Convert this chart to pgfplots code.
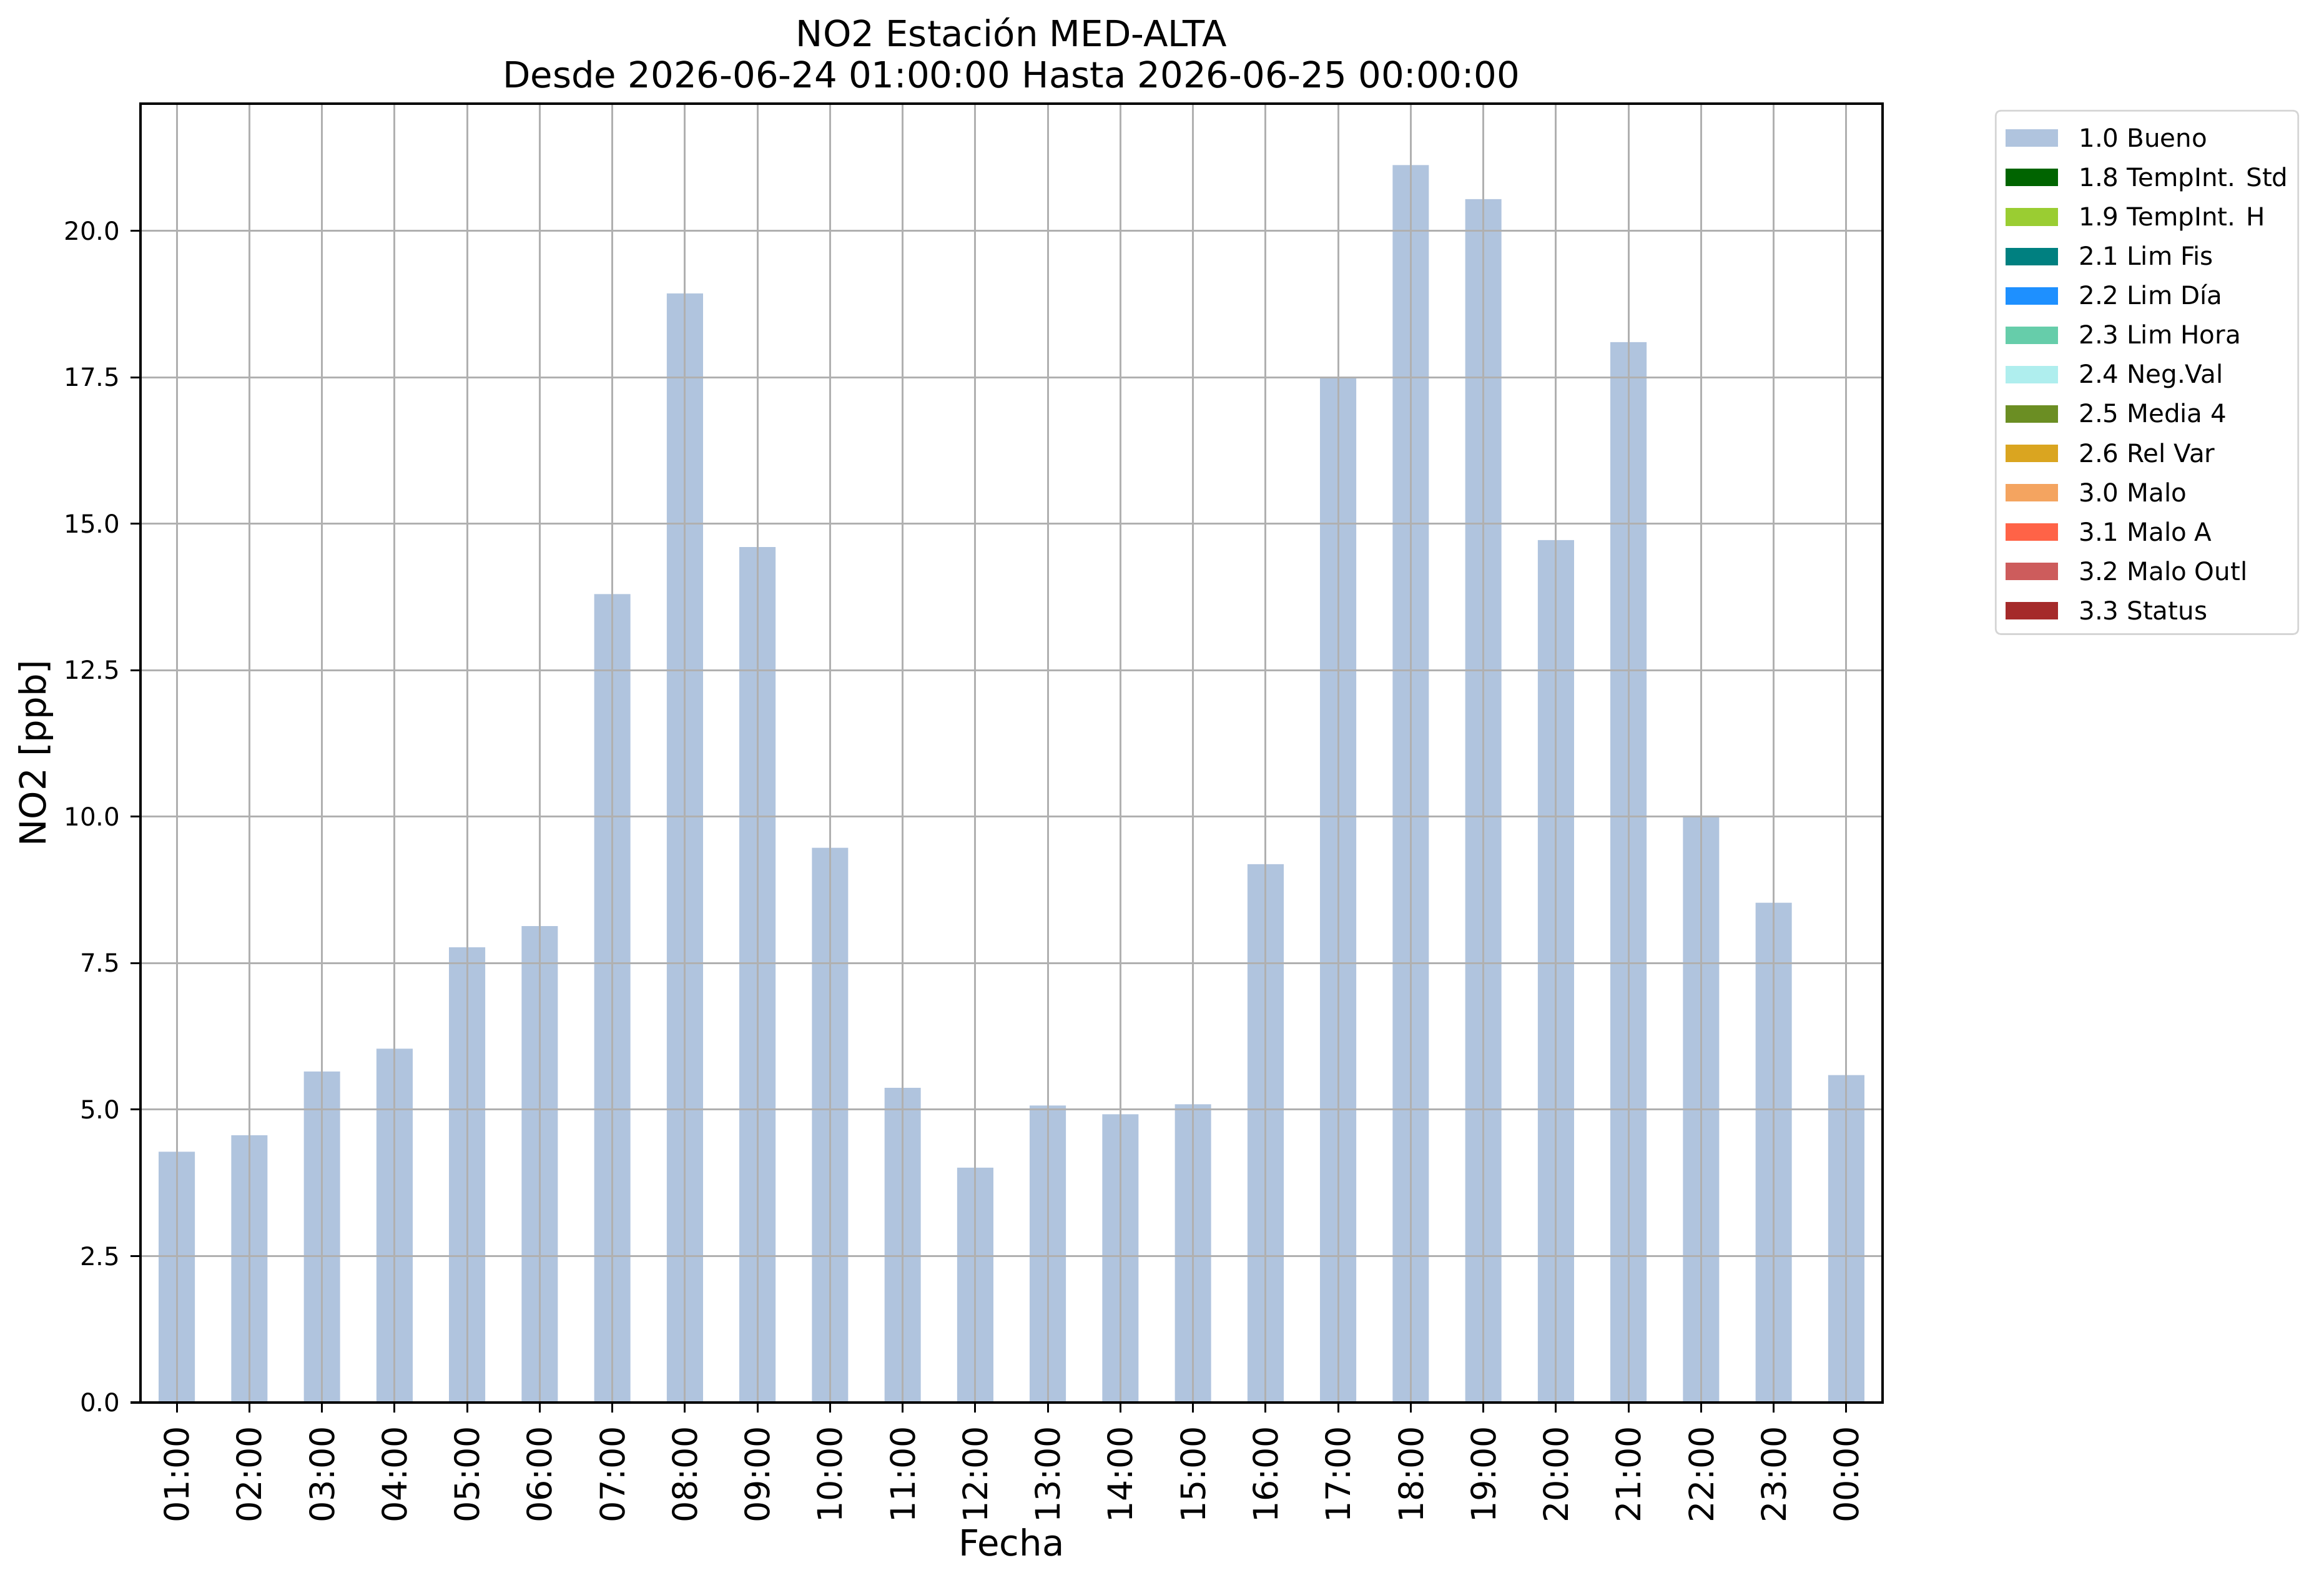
\documentclass[border=0pt]{standalone}
\usepackage{fontspec}
\setmainfont{DejaVu Sans}
\usepackage{pgfplots}
\pgfplotsset{compat=1.18}
\definecolor{bueno}{HTML}{B0C4DE}
\definecolor{c18}{HTML}{006400}
\definecolor{c19}{HTML}{9ACD32}
\definecolor{c21}{HTML}{008080}
\definecolor{c22}{HTML}{1E90FF}
\definecolor{c23}{HTML}{66CDAA}
\definecolor{c24}{HTML}{AFEEEE}
\definecolor{c25}{HTML}{6B8E23}
\definecolor{c26}{HTML}{DAA520}
\definecolor{c30}{HTML}{F4A460}
\definecolor{c31}{HTML}{FF6347}
\definecolor{c32}{HTML}{CD5C5C}
\definecolor{c33}{HTML}{A52A2A}
\definecolor{gridgray}{HTML}{B0B0B0}
\definecolor{legendgray}{HTML}{D5D5D5}
\pgfplotsset{myleg/.style={legend image code/.code={\fill[##1,draw=none,sharp corners] (0pt,0pt) rectangle (21.6pt,7.3pt);}}}
\begin{document}
\begin{tikzpicture}
\useasboundingbox (-58.5pt,-74.88pt) rectangle (909.22pt,583.96pt);
\begin{axis}[
  at={(0pt,0pt)}, anchor=south west,
  width=725.4pt, height=540.8pt, scale only axis,
  xmin=-0.5, xmax=23.5, ymin=0, ymax=22.17,
  xtick={0,...,23},
  xticklabels={01:00,02:00,03:00,04:00,05:00,06:00,07:00,08:00,09:00,10:00,11:00,12:00,13:00,14:00,15:00,16:00,17:00,18:00,19:00,20:00,21:00,22:00,23:00,00:00},
  ytick={0,2.5,...,20},
  /pgf/number format/assume math mode=true,
  yticklabel style={/pgf/number format/fixed,/pgf/number format/precision=1,/pgf/number format/fixed zerofill, font=\fontsize{10.5}{12}\selectfont, anchor=east, inner sep=0pt},
  xticklabel style={rotate=90, anchor=east, font=\fontsize{14}{16}\selectfont, inner sep=0pt},
  xticklabel shift=5.4pt,
  yticklabel shift=4.1pt,
  grid=major, major grid style={color=gridgray, line width=0.75pt},
  axis on top,
  axis line style={line width=0.8pt, black},
  tick style={line width=0.8pt, black},
  tick align=outside, major tick length=4.2pt,
  xtick pos=bottom, ytick pos=left,
  xlabel={Fecha}, ylabel={NO2 [ppb]},
  xlabel style={at={(axis description cs:0.5,-0.11779)}, anchor=base, inner sep=0pt, font=\fontsize{15}{18}\selectfont},
  ylabel style={at={(axis description cs:-0.05412,0.5)}, anchor=base, inner sep=0pt, font=\fontsize{15}{18}\selectfont},
  legend style={at={(1.0645,0.9952)}, anchor=north west, draw=legendgray, line width=0.7pt, rounded corners=2pt,
    font=\fontsize{10.5}{12}\selectfont, inner xsep=4.2pt, inner ysep=6pt, row sep=7.3pt,
    nodes={inner sep=0pt, text height=9.1pt, text depth=0pt, anchor=base west},
    /tikz/every odd column/.append style={column sep=8.8pt}},
  legend cell align=left,
]
\addplot[ybar, bar width=0.5, fill=bueno, draw=none, myleg] coordinates {
(0,4.28) (1,4.56) (2,5.65) (3,6.04) (4,7.77) (5,8.13) (6,13.80) (7,18.93)
(8,14.60) (9,9.47) (10,5.37) (11,4.01) (12,5.07) (13,4.92) (14,5.09) (15,9.19)
(16,17.50) (17,21.12) (18,20.54) (19,14.72) (20,18.10) (21,10.02) (22,8.53) (23,5.59)};
\addlegendentry{1.0 Bueno}
\addlegendimage{fill=c18, myleg}\addlegendentry{1.8 TempInt. Std}
\addlegendimage{fill=c19, myleg}\addlegendentry{1.9 TempInt. H}
\addlegendimage{fill=c21, myleg}\addlegendentry{2.1 Lim Fis}
\addlegendimage{fill=c22, myleg}\addlegendentry{2.2 Lim Día}
\addlegendimage{fill=c23, myleg}\addlegendentry{2.3 Lim Hora}
\addlegendimage{fill=c24, myleg}\addlegendentry{2.4 Neg.Val}
\addlegendimage{fill=c25, myleg}\addlegendentry{2.5 Media 4}
\addlegendimage{fill=c26, myleg}\addlegendentry{2.6 Rel Var}
\addlegendimage{fill=c30, myleg}\addlegendentry{3.0 Malo}
\addlegendimage{fill=c31, myleg}\addlegendentry{3.1 Malo A}
\addlegendimage{fill=c32, myleg}\addlegendentry{3.2 Malo Outl}
\addlegendimage{fill=c33, myleg}\addlegendentry{3.3 Status}
\end{axis}
\node[anchor=base, inner sep=0pt, font=\fontsize{15}{18}\selectfont] at (362.7pt,564.5pt) {NO2 Estación MED-ALTA};
\node[anchor=base, inner sep=0pt, font=\fontsize{15}{18}\selectfont] at (362.7pt,547.5pt) {Desde 2026-06-24 01:00:00 Hasta 2026-06-25 00:00:00};
\end{tikzpicture}
\end{document}
